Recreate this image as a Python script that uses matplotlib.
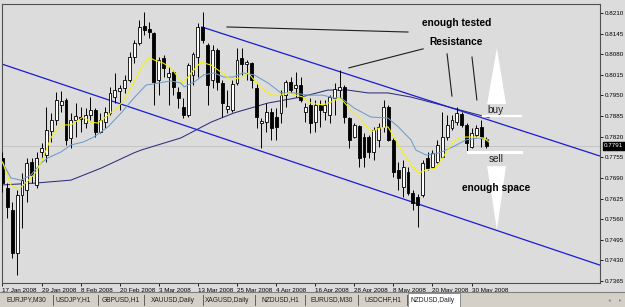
import matplotlib
matplotlib.use("Agg")
import matplotlib.pyplot as plt
from matplotlib.patches import Rectangle, Polygon

plt.rcParams['font.family'] = ['Liberation Sans', 'DejaVu Sans']

# NZDUSD daily candles, bar 0 = 17 Jan 2008
opens = [.7753, .7658, .7589, .7453, .7636, .7652, .7740, .7668, .7772, .7762,
         .7838, .7873, .7920, .7936, .7816, .7873, .7882, .7863, .7888, .7904,
         .7835, .7866, .7895, .7945, .7964, .7974, .7999, .8071, .8115, .8169,
         .8160, .8147, .7999, .8068, .8008, .8024, .7961, .7914, .7888, .8015,
         .8071, .8166, .8109, .7999, .8093, .7989, .7907, .7904, .7989, .8068,
         .8049, .8052, .7974, .7863, .7866, .7898, .7882, .7895, .7951, .7992,
         .7974, .7983, .7898, .7920, .7866, .7920, .7898, .7888, .7942, .7967,
         .7977, .7879, .7819, .7854, .7819, .7819, .7772, .7810, .7851, .7914,
         .7810, .7715, .7661, .7709, .7642, .7630, .7636, .7753, .7724, .7740,
         .7756, .7819, .7847, .7866, .7892, .7857, .7788, .7825, .7851, .7813]
highs = [.7772, .7674, .7614, .7652, .7705, .7753, .7753, .7772, .7800, .7914,
         .7895, .7961, .7964, .7942, .7895, .7926, .7914, .7910, .7945, .7910,
         .7895, .7914, .7977, .8021, .7983, .8015, .8087, .8125, .8188, .8213,
         .8182, .8150, .8071, .8078, .8040, .8030, .7977, .7942, .8052, .8087,
         .8178, .8213, .8115, .8109, .8100, .7999, .7967, .7999, .8100, .8100,
         .8062, .8055, .7989, .7879, .7926, .7910, .7910, .7967, .7999, .8008,
         .8024, .8008, .7926, .7942, .7936, .7936, .7936, .7951, .7989, .8030,
         .7983, .7882, .7863, .7857, .7832, .7825, .7851, .7863, .7936, .7920,
         .7816, .7740, .7747, .7724, .7652, .7639, .7747, .7772, .7778, .7810,
         .7898, .7888, .7888, .7914, .7898, .7863, .7847, .7857, .7873, .7819]
lows = [.7646, .7564, .7438, .7384, .7532, .7614, .7674, .7658, .7753, .7740,
        .7803, .7857, .7898, .7794, .7784, .7819, .7835, .7847, .7873, .7819,
        .7832, .7847, .7888, .7926, .7904, .7958, .7992, .8052, .8109, .8141,
        .8131, .7920, .7951, .8008, .7920, .7951, .7910, .7879, .7882, .7983,
        .8008, .8115, .7920, .7974, .7967, .7882, .7895, .7898, .7983, .8015,
        .7999, .7974, .7847, .7784, .7835, .7810, .7810, .7863, .7914, .7958,
        .7945, .7929, .7866, .7832, .7835, .7851, .7873, .7863, .7888, .7942,
        .7863, .7784, .7816, .7724, .7724, .7753, .7747, .7788, .7835, .7806,
        .7693, .7652, .7630, .7636, .7589, .7535, .7630, .7715, .7721, .7737,
        .7753, .7810, .7841, .7857, .7851, .7769, .7784, .7819, .7788, .7784]
closes = [.7674, .7598, .7453, .7636, .7683, .7737, .7699, .7753, .7784, .7841,
          .7873, .7936, .7932, .7810, .7873, .7885, .7876, .7888, .7904, .7835,
          .7873, .7898, .7958, .7967, .7974, .7999, .8071, .8115, .8166, .8156,
          .8150, .7992, .8062, .8037, .8021, .7977, .7942, .7888, .8046, .8081,
          .8166, .8125, .7983, .8093, .7992, .7926, .7917, .7986, .8062, .8049,
          .8055, .7999, .7882, .7869, .7898, .7847, .7851, .7951, .7992, .7967,
          .7983, .7936, .7914, .7863, .7920, .7904, .7920, .7945, .7970, .7977,
          .7882, .7810, .7857, .7753, .7756, .7772, .7841, .7851, .7914, .7810,
          .7709, .7690, .7724, .7642, .7611, .7605, .7737, .7721, .7769, .7794,
          .7819, .7857, .7873, .7895, .7857, .7800, .7832, .7847, .7816, .7791]

# moving averages (bar index, price)
ma_fast_x = [0, 1.7, 2.8, 3.8, 5.8, 6.9, 8.3, 9.9, 11.0, 12.0, 14.0, 16.5, 18.1, 19.5,
             21.6, 23.6, 24.9, 26.3, 28.4, 30.0, 31.0, 32.9, 34.5, 35.9, 37.0, 38.6,
             40.6, 42.7, 44.7, 46.8, 49.2, 50.3, 51.5, 52.9, 55.0, 57.0, 58.6, 60.1,
             61.5, 63.1, 65.6, 67.2, 68.9, 69.9, 71.3, 73.4, 75.4, 77.1, 78.9, 80.1,
             82.0, 84.0, 85.3, 86.7, 88.7, 90.2, 92.2, 93.4, 94.9, 96.9, 98.4, 99.6]
ma_fast = [.7740, .7668, .7658, .7661, .7690, .7709, .7753, .7816, .7841, .7857, .7857,
           .7882, .7866, .7863, .7888, .7914, .7936, .7974, .8037, .8071, .8062, .8052,
           .8037, .8008, .7989, .8021, .8055, .8046, .8024, .7999, .8008, .8021, .7999,
           .7974, .7951, .7951, .7958, .7951, .7945, .7926, .7920, .7929, .7942, .7929,
           .7904, .7873, .7835, .7847, .7851, .7819, .7769, .7724, .7706, .7715, .7721,
           .7756, .7803, .7816, .7819, .7819, .7816, .7803]

ma_mid_x = [0, 1.7, 3.8, 5.8, 7.9, 9.3, 12.0, 14.0, 16.5, 18.7, 21.6, 24.3, 26.9, 29.4,
            30.8, 32.9, 34.5, 36.5, 37.2, 39.2, 41.2, 43.3, 45.3, 47.2, 49.2, 51.5,
            54.4, 57.0, 59.7, 62.5, 65.6, 67.9, 69.3, 72.0, 75.4, 78.9, 81.0, 83.6,
            84.6, 86.7, 89.4, 92.2, 94.9, 97.5, 99.6]
ma_mid = [.7740, .7690, .7683, .7699, .7737, .7753, .7772, .7794, .7803, .7819, .7851,
          .7895, .7942, .7983, .7986, .7992, .7996, .7989, .7977, .7992, .8015, .8021,
          .8008, .8008, .8021, .8015, .7989, .7958, .7958, .7951, .7951, .7942, .7942,
          .7910, .7882, .7879, .7851, .7810, .7778, .7762, .7769, .7788, .7810, .7816,
          .7810]

ma_slow_x = [0, 6.9, 14.0, 20.2, 26.9, 28.4, 36.5, 42.7, 47.4, 54.3, 61.1, 66.6,
             70.7, 74.8, 78.9, 83.6, 89.8, 95.9, 99.6]
ma_slow = [.7668, .7674, .7683, .7721, .7769, .7778, .7816, .7866, .7895, .7926,
           .7945, .7967, .7967, .7958, .7958, .7945, .7920, .7895, .7880]

# channel and pointer lines: (bar, price) end points
channel_upper = [(40.8, .8166), (122.3, .7759)]
channel_lower = [(-0.1, .8049), (122.3, .7415)]
pointers = [[(45.95, .8166), (83.0, .8150)],
            [(70.9, .8037), (86.1, .8097)],
            [(91.0, .8081), (92.0, .7948)],
            [(96.1, .8071), (97.1, .7936)]]

price_ticks = [.8210, .8145, .8080, .8015, .7950, .7885, .7820, .7755,
               .7690, .7625, .7560, .7495, .7430, .7365]
date_bars = [0, 8, 16, 24, 32, 40, 48, 56, 64, 72, 80, 88, 96]
date_labels = ["17 Jan 2008", "29 Jan 2008", "8 Feb 2008", "20 Feb 2008", "3 Mar 2008",
               "13 Mar 2008", "25 Mar 2008", "4 Apr 2008", "16 Apr 2008", "28 Apr 2008",
               "8 May 2008", "20 May 2008", "30 May 2008"]
last_price = .7791

tabs = ["EURJPY,M30", "USDJPY,H1", "GBPUSD,H1", "XAUUSD,Daily", "XAGUSD,Daily",
        "NZDUSD,H1", "EURUSD,M30", "USDCHF,H1", "NZDUSD,Daily"]
tab_centers = [26, 73, 121, 173, 227, 280, 332, 383, 433]
tab_seps = [53, 98, 144, 203, 255, 305, 358, 407]

W, H = 625, 307
BG = '#DCDCDC'
fig = plt.figure(figsize=(W / 100, H / 100), dpi=100)
fig.patch.set_facecolor(BG)
ax = fig.add_axes([2 / W, 1 - 283 / H, 598 / W, 279 / H])
ax.set_facecolor(BG)

xs = list(range(len(opens)))
ax.vlines(xs, lows, highs, color='black', lw=0.7, zorder=3)
bottoms = [min(o, c) for o, c in zip(opens, closes)]
heights = [max(abs(c - o), 0.00005) for o, c in zip(opens, closes)]
colors = ['white' if c >= o else 'black' for o, c in zip(opens, closes)]
ax.bar(xs, heights, bottom=bottoms, width=0.6, color=colors, edgecolor='black',
       linewidth=0.6, zorder=4)

ax.plot(ma_slow_x, ma_slow, color='#2E2E7A', lw=0.75, zorder=2)
ax.plot(ma_mid_x, ma_mid, color='#6E9CC4', lw=0.75, zorder=5)
ax.plot(ma_fast_x, ma_fast, color='#F5F500', lw=0.75, zorder=5)
ax.axhline(last_price, color='#C4C4C4', lw=0.7, zorder=1)

for seg in (channel_upper, channel_lower):
    ax.plot([p[0] for p in seg], [p[1] for p in seg], color='#1A1AD8', lw=0.9, zorder=2)
for seg in pointers:
    ax.plot([p[0] for p in seg], [p[1] for p in seg], color='#1E1E1E', lw=0.8, zorder=2)

# buy / sell arrows
ax.add_patch(Polygon([(101.2, .8100), (99.2, .7923), (103.05, .7923)],
                     closed=True, facecolor='white', edgecolor='none', zorder=6))
ax.add_patch(Polygon([(99.2, .7727), (103.05, .7727), (101.2, .7526)],
                     closed=True, facecolor='white', edgecolor='none', zorder=6))
ax.plot([98.3, 106.1], [.7885, .7885], color='white', lw=1.6, zorder=6)
ax.plot([95.3, 106.1], [.7773, .7773], color='white', lw=2.2, zorder=6)

ax.text(93.0, .8178, "enough tested", fontsize=7.3, fontweight='bold', ha='center', va='center')
ax.text(92.8, .8119, "Resistance", fontsize=7.3, fontweight='bold', ha='center', va='center')
ax.text(101.0, .7904, "buy", fontsize=7.2, color='#202020', ha='center', va='center', zorder=7)
ax.text(101.0, .7750, "sell", fontsize=7.2, color='#202020', ha='center', va='center', zorder=7)
ax.text(101.0, .7659, "enough space", fontsize=7.3, fontweight='bold', ha='center', va='center', zorder=7)

ax.set_xlim(-0.1, 122.3)
ax.set_ylim(.73587, .82384)
ax.yaxis.tick_right()
ax.set_yticks(price_ticks)
ax.set_yticklabels(['%.4f' % p for p in price_ticks])
ax.set_xticks(date_bars)
ax.set_xticklabels(date_labels)
for lbl in ax.get_xticklabels():
    lbl.set_horizontalalignment('left')
ax.tick_params(axis='both', labelsize=4.5, length=2.5, width=0.6, pad=1.2, colors='black')
ax.tick_params(axis='x', pad=1.0)
for s in ax.spines.values():
    s.set_color('#505050')
    s.set_linewidth(0.8)

ax.annotate('%.4f' % last_price, xy=(1.0, last_price), xycoords=('axes fraction', 'data'),
            xytext=(3, 0), textcoords='offset points', fontsize=4.5, color='white',
            va='center', ha='left', annotation_clip=False,
            bbox=dict(boxstyle='square,pad=0.25', facecolor='black', edgecolor='black'))

# symbol tabs at the bottom
fig.add_artist(Rectangle((0, 0), 1, 15 / H, transform=fig.transFigure,
                         facecolor='#D4D0C8', edgecolor='none'))
fig.add_artist(plt.Line2D([0, 1], [15 / H, 15 / H], transform=fig.transFigure,
                          color='#808080', lw=0.8))
fig.add_artist(Rectangle((408 / W, 0), 52 / W, 14 / H, transform=fig.transFigure,
                         facecolor='white', edgecolor='#808080', lw=0.6))
for sx in tab_seps:
    fig.add_artist(plt.Line2D([sx / W, sx / W], [2 / H, 12 / H], transform=fig.transFigure,
                              color='#606060', lw=0.7))
for name, cx in zip(tabs, tab_centers):
    fig.text(cx / W, 1 - 300 / H, name, fontsize=4.8, ha='center', va='center', color='#202020')
fig.text(609 / W, 1 - 300 / H, '\u25c2', fontsize=4, ha='center', va='center', color='#909090')
fig.text(620 / W, 1 - 300 / H, '\u25b8', fontsize=4, ha='center', va='center', color='#909090')

fig.savefig('out.png', dpi=100, facecolor=fig.get_facecolor())
